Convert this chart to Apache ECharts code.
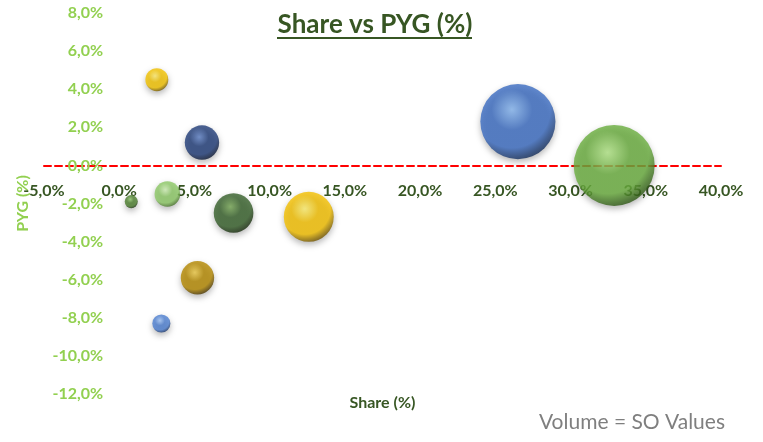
<!DOCTYPE html>
<html>
<head>
<meta charset="utf-8">
<title>Share vs PYG (%)</title>
<script src="https://cdn.jsdelivr.net/npm/echarts@6/dist/echarts.min.js"></script>
<style>
  html, body { margin: 0; padding: 0; background: #fff; }
  #chart { width: 763px; height: 442px; }
</style>
</head>
<body>
<div id="chart"></div>
<script>
// share (%) on x, PYG (%) on y, volume (SO values) drives bubble area
const shareValues = [2.5, 5.5, 0.8, 3.2, 7.6, 12.6, 5.2, 2.8, 26.5, 32.9]
const pygValues = [4.5, 1.2, -1.9, -1.5, -2.5, -2.7, -5.9, -8.3, 2.3, 0.0]
const volumeValues = [8, 18, 2.6, 10, 24, 38, 17, 5, 86, 100]

// [highlight, base, shade] per bubble
const bubbleColors = [
  ['#ffec70', '#f2c200', '#6e5400'],
  ['#5f82c8', '#203c78', '#0a1530'],
  ['#8cc266', '#4a7c2c', '#1c3410'],
  ['#d2f2b8', '#8cc865', '#456f28'],
  ['#78a956', '#36602a', '#14260a'],
  ['#fff070', '#f4c000', '#6e5200'],
  ['#f0cc48', '#b48800', '#473300'],
  ['#9ec2f6', '#4c7ed0', '#1a3466'],
  ['#88b8f2', '#3b6cc2', '#132c58'],
  ['#b4e888', '#6aae3e', '#2c5414']
]

const maxVolume = Math.max(...volumeValues)
const pct = (v) => v.toFixed(1).replace('.', ',') + '%'

function sphere (c) {
  return new echarts.graphic.RadialGradient(0.42, 0.34, 0.68, [
    { offset: 0, color: c[0] },
    { offset: 0.4, color: c[1] },
    { offset: 0.75, color: c[1] },
    { offset: 1, color: c[2] }
  ])
}

const bubbles = []
for (let i = 0; i < shareValues.length; i++) {
  bubbles.push({
    value: [shareValues[i], pygValues[i], volumeValues[i]],
    itemStyle: {
      color: sphere(bubbleColors[i]),
      shadowBlur: 6,
      shadowOffsetY: 3,
      shadowColor: 'rgba(0,0,0,0.35)'
    }
  })
}

const grid = { left: 44, right: 42, top: 13, bottom: 48, outerBoundsMode: 'none', containLabel: false }

const chart = echarts.init(document.getElementById('chart'))
chart.setOption({
  animation: false,
  textStyle: { fontFamily: 'Lato' },
  grid,
  xAxis: {
    type: 'value',
    min: -5,
    max: 40,
    interval: 5,
    splitLine: { show: false },
    axisTick: { show: false },
    axisLine: {
      show: true,
      onZero: false,
      lineStyle: { color: '#ff0000', width: 2, type: [7, 4] }
    },
    axisLabel: {
      margin: 17,
      color: '#375623',
      fontWeight: 'bold',
      fontSize: 16,
      formatter: pct
    },
    name: 'Share (%)',
    nameLocation: 'middle',
    nameGap: 229,
    nameTextStyle: { color: '#375623', fontWeight: 'bold', fontSize: 16 }
  },
  yAxis: {
    type: 'value',
    min: -12,
    max: 8,
    interval: 2,
    splitLine: { show: false },
    axisTick: { show: false },
    axisLine: { show: false, onZero: false },
    axisLabel: {
      margin: 16,
      color: '#92d050',
      fontWeight: 'bold',
      fontSize: 16,
      formatter: pct
    },
    name: 'PYG (%)',
    nameLocation: 'middle',
    nameGap: 80,
    nameTextStyle: { color: '#92d050', fontWeight: 'bold', fontSize: 16 }
  },
  graphic: [
    {
      type: 'text',
      x: 375,
      y: 25,
      style: {
        text: 'Share vs PYG (%)',
        fill: '#375623',
        font: 'bold 26px Lato',
        textAlign: 'center',
        textVerticalAlign: 'middle'
      }
    },
    {
      type: 'rect',
      shape: { x: 277, y: 37, width: 195, height: 2 },
      style: { fill: '#375623' }
    },
    {
      type: 'text',
      x: 725,
      y: 422,
      style: {
        text: 'Volume = SO Values',
        fill: '#7f7f7f',
        font: '21px Lato',
        textAlign: 'right',
        textVerticalAlign: 'middle'
      }
    }
  ],
  series: [
    {
      type: 'scatter',
      data: bubbles,
      symbolSize: (val) => 81 * Math.sqrt(val[2] / maxVolume),
      // bubbles sit above the axis labels, as in Excel
      zlevel: 1
    }
  ]
})

// move both axes (labels included) to cross at zero, like the Excel chart
const origin = chart.convertToPixel({ gridIndex: 0 }, [0, 0])
const corner = chart.convertToPixel({ gridIndex: 0 }, [-5, -12])
chart.setOption({
  xAxis: { offset: origin[1] - corner[1] },
  yAxis: { offset: corner[0] - origin[0], nameGap: 88 }
})
</script>
</body>
</html>
